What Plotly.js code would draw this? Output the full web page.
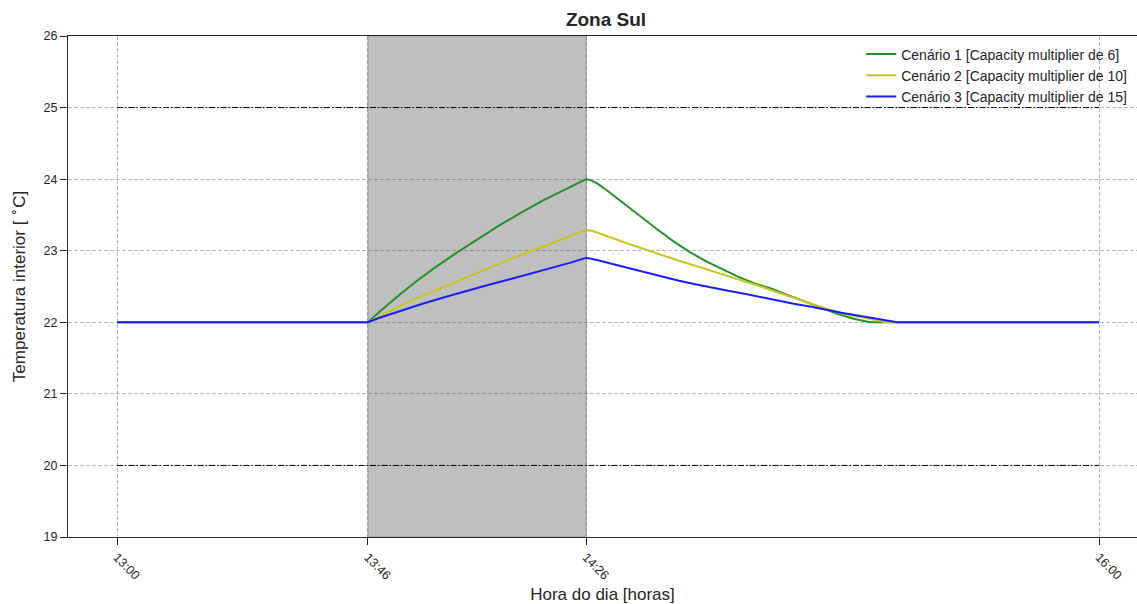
<!DOCTYPE html>
<html>
<head>
<meta charset="utf-8">
<script src="https://cdn.plot.ly/plotly-3.0.1.min.js"></script>
<style>
  html, body { margin: 0; padding: 0; background: #ffffff; }
  #chart { width: 1137px; height: 604px; }
</style>
</head>
<body>
<div id="chart"></div>
<script>
// Time in minutes after 13:00, indoor temperature in °C
const minutosC1 = [0, 46, 48, 50, 52, 55, 58, 62, 66, 70, 74, 78, 82, 86, 87, 88, 90, 93, 96, 99, 102, 105, 108, 111, 114, 117, 120, 123, 126, 129, 132, 135, 137, 138, 180];
const tempC1    = [22, 22, 22.14, 22.27, 22.40, 22.58, 22.75, 22.96, 23.16, 23.35, 23.53, 23.70, 23.85, 24.00, 23.98, 23.94, 23.83, 23.65, 23.47, 23.30, 23.13, 22.98, 22.85, 22.74, 22.63, 22.54, 22.47, 22.38, 22.29, 22.20, 22.12, 22.05, 22.01, 22.00, 22.00];

const minutosC2 = [0, 46, 48, 50, 53, 56, 60, 64, 68, 72, 76, 80, 83, 86, 87, 88, 91, 94, 97, 100, 103, 106, 109, 112, 115, 118, 121, 124, 127, 130, 133, 136, 139, 141, 180];
const tempC2    = [22, 22, 22.08, 22.16, 22.27, 22.37, 22.50, 22.63, 22.76, 22.88, 23.00, 23.12, 23.21, 23.29, 23.28, 23.25, 23.17, 23.09, 23.01, 22.93, 22.86, 22.79, 22.72, 22.65, 22.58, 22.50, 22.42, 22.34, 22.26, 22.19, 22.12, 22.07, 22.03, 22.00, 22.00];

const minutosC3 = [0, 46, 48, 50, 53, 56, 60, 64, 68, 72, 76, 80, 83, 86, 87, 88, 91, 94, 97, 100, 103, 106, 109, 112, 115, 118, 121, 124, 127, 130, 133, 136, 139, 142, 143, 180];
const tempC3    = [22, 22, 22.06, 22.11, 22.19, 22.26, 22.35, 22.44, 22.52, 22.60, 22.68, 22.76, 22.83, 22.90, 22.89, 22.87, 22.81, 22.75, 22.69, 22.63, 22.58, 22.53, 22.48, 22.44, 22.40, 22.35, 22.31, 22.26, 22.22, 22.17, 22.13, 22.09, 22.05, 22.01, 22.00, 22.00];

const nomesCenarios = [
  'Cenário 1 [Capacity multiplier de 6]',
  'Cenário 2 [Capacity multiplier de 10]',
  'Cenário 3 [Capacity multiplier de 15]'
];

// Comfort band limits and simulation span
const limiteSuperior = 25;
const limiteInferior = 20;
const intervaloSim = [0, 180];

// Event window (13:46 – 14:26)
const eventoInicio = 46;
const eventoFim = 86;

// X tick positions and labels
const ticksMin = [0, 46, 86, 180];
const ticksHora = ['13:00', '13:46', '14:26', '16:00'];

const fonte = 'Liberation Sans, Arial, sans-serif';
const corTexto = '#262626';

const traces = [
  {
    x: intervaloSim, y: [limiteSuperior, limiteSuperior],
    mode: 'lines', showlegend: false, hoverinfo: 'skip',
    line: { color: '#000000', width: 1, dash: '6px,2px,1.5px,2px' }
  },
  {
    x: intervaloSim, y: [limiteInferior, limiteInferior],
    mode: 'lines', showlegend: false, hoverinfo: 'skip',
    line: { color: '#000000', width: 1, dash: '6px,2px,1.5px,2px' }
  },
  {
    x: minutosC1, y: tempC1, name: nomesCenarios[0],
    mode: 'lines', line: { color: '#24922a', width: 2 }
  },
  {
    x: minutosC2, y: tempC2, name: nomesCenarios[1],
    mode: 'lines', line: { color: '#c6c621', width: 2 }
  },
  {
    x: minutosC3, y: tempC3, name: nomesCenarios[2],
    mode: 'lines', line: { color: '#1d1dfb', width: 2 }
  }
];

const layout = {
  width: 1137,
  height: 604,
  paper_bgcolor: '#ffffff',
  plot_bgcolor: '#ffffff',
  margin: { l: 68, r: 0, t: 36, b: 67 },
  font: { family: fonte, color: corTexto, size: 12 },
  title: {
    text: '<b>Zona Sul</b>',
    font: { family: fonte, size: 19, color: corTexto },
    x: 606 / 1137, xref: 'container', xanchor: 'center',
    y: 1 - 19 / 604, yref: 'container', yanchor: 'middle'
  },
  showlegend: true,
  legend: {
    x: 0.742, y: 0.995, xanchor: 'left', yanchor: 'top',
    bgcolor: 'rgba(0,0,0,0)', borderwidth: 0,
    font: { family: fonte, size: 14, color: corTexto },
    tracegroupgap: 0
  },
  xaxis: {
    range: [-8.98, 186.95],
    tickmode: 'array', tickvals: ticksMin, ticktext: ticksHora,
    tickangle: 45,
    ticks: 'outside', ticklen: 7, tickwidth: 1.25, tickcolor: corTexto,
    showline: true, linecolor: corTexto, linewidth: 1.25, mirror: true,
    showgrid: true, gridcolor: 'rgba(100,100,100,0.45)', gridwidth: 1, griddash: '4px,2px',
    zeroline: false,
    tickfont: { family: fonte, size: 12.5, color: corTexto },
    title: { text: 'Hora do dia [horas]', font: { family: fonte, size: 17, color: corTexto }, standoff: 9 }
  },
  yaxis: {
    range: [19, 26],
    tickmode: 'linear', tick0: 19, dtick: 1,
    ticks: 'outside', ticklen: 7, tickwidth: 1.25, tickcolor: corTexto,
    showline: true, linecolor: corTexto, linewidth: 1.25, mirror: false,
    showgrid: true, gridcolor: 'rgba(100,100,100,0.45)', gridwidth: 1, griddash: '4px,2px',
    zeroline: false,
    tickfont: { family: fonte, size: 12.5, color: corTexto },
    title: { text: 'Temperatura interior [ <sup>∘</sup>C]', font: { family: fonte, size: 17, color: corTexto }, standoff: 13 }
  },
  shapes: [
    {
      type: 'rect', xref: 'x', yref: 'paper',
      x0: eventoInicio, x1: eventoFim, y0: 0, y1: 1,
      fillcolor: '#bfbfbf', layer: 'below',
      line: { color: 'rgba(128,128,128,0.6)', width: 1 }
    }
  ]
};

Plotly.newPlot('chart', traces, layout, { displayModeBar: false, responsive: false });
</script>
</body>
</html>
